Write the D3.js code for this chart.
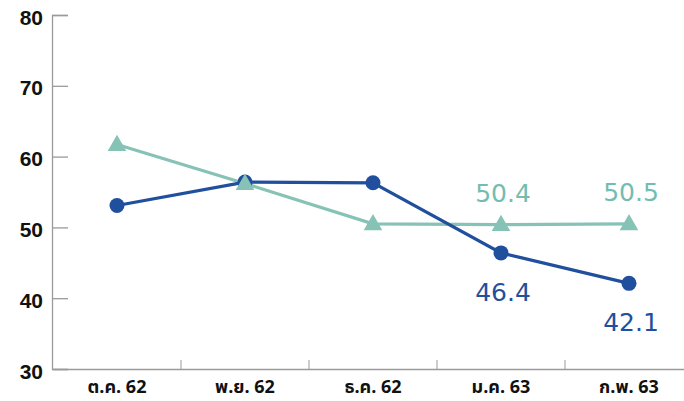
<!DOCTYPE html>
<html><head><meta charset="utf-8">
<script src="https://cdn.jsdelivr.net/npm/d3@7"></script>
<style>
html,body{margin:0;padding:0;background:#fff;}
svg{display:block;}
</style></head>
<body>
<svg id="chart" width="684" height="401"></svg>
<script>
const categories = ["ต.ค. 62", "พ.ย. 62", "ธ.ค. 62", "ม.ค. 63", "ก.พ. 63"];
const blueValues = [53.1, 56.4, 56.3, 46.4, 42.1];
const tealValues = [61.7, 56.2, 50.5, 50.4, 50.5];
const yTicks = [30, 40, 50, 60, 70, 80];
const blueLabels = [null, null, null, "46.4", "42.1"];
const tealLabels = [null, null, null, "50.4", "50.5"];

const BLUE = "#1f4f9d", TEAL = "#86c2b6", TEAL_TEXT = "#72bdb0", AXIS = "#9a9a9a";
const svg = d3.select("#chart");

const x = d3.scaleBand().domain(categories).range([53, 693]).padding(0);
const y = d3.scaleLinear().domain([30, 80]).range([369, 15]);
const cx = d => x(d) + x.bandwidth() / 2;

// Y axis
const yAxis = svg.append("g").attr("transform", "translate(52,0)")
  .call(d3.axisRight(y).tickValues(yTicks).tickSize(16).tickFormat(""));
yAxis.select(".domain").attr("stroke", AXIS).attr("stroke-width", 1.3);
yAxis.selectAll(".tick line").attr("stroke", AXIS).attr("stroke-width", 1.3);
svg.append("g").selectAll("text").data(yTicks).join("text")
  .attr("x", 43).attr("y", d => y(d) + 4)
  .attr("text-anchor", "end").attr("dominant-baseline", "middle")
  .attr("font-family", "'Liberation Sans', Arial, sans-serif")
  .attr("font-weight", "bold").attr("font-size", 21).attr("fill", "#111")
  .text(d => d);

// X axis
const xAxis = svg.append("g").attr("transform", "translate(0,369)")
  .call(d3.axisTop(x).tickSize(0).tickFormat(""));
xAxis.select(".domain").attr("stroke", AXIS).attr("stroke-width", 1.5);
svg.append("g").selectAll("line").data(categories.slice(1)).join("line")
  .attr("x1", d => x(d)).attr("x2", d => x(d))
  .attr("y1", 360).attr("y2", 369)
  .attr("stroke", AXIS).attr("stroke-width", 1);
svg.append("g").selectAll("text").data(categories).join("text")
  .attr("x", d => cx(d)).attr("y", 393)
  .attr("text-anchor", "middle")
  .attr("font-family", "'Noto Sans Thai', 'Noto Sans', 'DejaVu Sans', sans-serif")
  .attr("font-weight", "bold").attr("font-size", 18).attr("fill", "#111")
  .text(d => d);

// Lines
const line = vals => d3.line().x((d, i) => cx(categories[i])).y(d => y(d))(vals);
svg.append("path").attr("d", line(tealValues))
  .attr("fill", "none").attr("stroke", TEAL).attr("stroke-width", 3.2);
svg.append("path").attr("d", line(blueValues))
  .attr("fill", "none").attr("stroke", BLUE).attr("stroke-width", 3.2);

// Blue circles
svg.append("g").selectAll("circle").data(blueValues).join("circle")
  .attr("cx", (d, i) => cx(categories[i])).attr("cy", d => y(d))
  .attr("r", 7.5).attr("fill", BLUE);

// Teal triangles
const tri = d3.symbol().type(d3.symbolTriangle).size(150);
svg.append("g").selectAll("path").data(tealValues).join("path")
  .attr("d", tri)
  .attr("transform", (d, i) => `translate(${cx(categories[i])},${y(d) + 1})`)
  .attr("fill", TEAL);

// Value labels
const labelFont = "'DejaVu Sans', Verdana, sans-serif";
const tealLab = tealValues.map((v, i) => ({v, i, t: tealLabels[i]})).filter(d => d.t !== null);
const blueLab = blueValues.map((v, i) => ({v, i, t: blueLabels[i]})).filter(d => d.t !== null);
svg.append("g").selectAll("text").data(tealLab).join("text")
  .attr("x", d => cx(categories[d.i]) + 2).attr("y", d => y(d.v) - 23)
  .attr("text-anchor", "middle").attr("font-family", labelFont)
  .attr("font-size", 25).attr("fill", TEAL_TEXT)
  .text(d => d.t);
svg.append("g").selectAll("text").data(blueLab).join("text")
  .attr("x", d => cx(categories[d.i]) + 2).attr("y", d => y(d.v) + 48)
  .attr("text-anchor", "middle").attr("font-family", labelFont)
  .attr("font-size", 25).attr("fill", BLUE)
  .text(d => d.t);
</script>
</body></html>
